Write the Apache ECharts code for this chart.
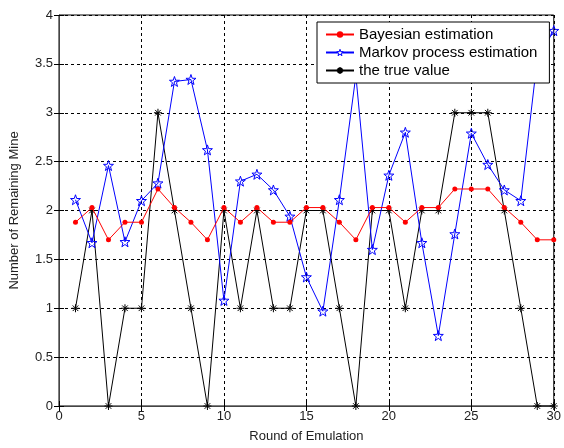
<!DOCTYPE html>
<html>
<head>
    <meta charset="utf-8">
    <title>Remaining Mine</title>
    <script src="https://cdn.jsdelivr.net/npm/echarts@6/dist/echarts.min.js"></script>
</head>
<style>
    html, body { margin: 0; padding: 0; background: #fff; }
    #chart { width: 564px; height: 448px; }
</style>
<body>
<div id="chart"></div>
<script>
    // rounds 1..30
    var rounds = [];
    for (var i = 1; i <= 30; i++) rounds.push(i);

    var bayesian = [1.88, 2.03, 1.70, 1.88, 1.88, 2.22, 2.03, 1.88, 1.70, 2.03,
        1.88, 2.03, 1.88, 1.88, 2.03, 2.03, 1.88, 1.70, 2.03, 2.03,
        1.88, 2.03, 2.03, 2.22, 2.22, 2.22, 2.03, 1.88, 1.70, 1.70];
    var markov = [2.11, 1.67, 2.46, 1.68, 2.10, 2.28, 3.32, 3.34, 2.62, 1.08,
        2.30, 2.37, 2.21, 1.94, 1.32, 0.97, 2.11, 3.38, 1.60, 2.36,
        2.80, 1.67, 0.72, 1.76, 2.79, 2.47, 2.21, 2.10, 3.55, 3.84];
    var trueValue = [1, 2, 0, 1, 1, 3, 2, 1, 0, 2,
        1, 2, 1, 1, 2, 2, 1, 0, 2, 2,
        1, 2, 2, 3, 3, 3, 2, 1, 0, 0];

    function pairs(arr) {
        return arr.map(function (v, i) { return [rounds[i], v]; });
    }

    var starPath = 'path://M0,-10L2.35,-3.24L9.51,-3.09L3.8,1.24L5.88,8.09L0,4L-5.88,8.09L-3.8,1.24L-9.51,-3.09L-2.35,-3.24Z';
    var asteriskPath = 'path://M0,-5L0,5M-5,0L5,0M-3.5,-3.5L3.5,3.5M-3.5,3.5L3.5,-3.5';

    var font = 'Liberation Sans, Arial, sans-serif';
    var gridDash = {show: true, lineStyle: {color: '#000', type: [3, 3], width: 1}};

    var chart = echarts.init(document.getElementById('chart'));
    chart.setOption({
        animation: false,
        grid: {
            left: 59, right: 4, top: 15, bottom: 40,
            show: true, borderColor: '#000', borderWidth: 1
        },
        legend: {
            left: 317, top: 22,
            orient: 'vertical',
            z: 10,
            backgroundColor: '#fff',
            borderColor: '#000',
            borderWidth: 1,
            borderRadius: 0,
            padding: [5, 12, 5, 8],
            itemGap: 3,
            itemWidth: 28,
            itemHeight: 8,
            textStyle: {fontFamily: font, fontSize: 15, color: '#000'},
            data: [
                {name: 'Bayesian estimation'},
                {name: 'Markov process estimation', itemStyle: {color: '#fff', borderColor: '#0000ff', borderWidth: 1}},
                {name: 'the true value'}
            ]
        },
        xAxis: [{
            type: 'value', min: 0, max: 30, interval: 5,
            name: 'Round of Emulation', nameLocation: 'middle', nameGap: 24,
            nameTextStyle: {fontFamily: font, fontSize: 13, color: '#222'},
            axisLine: {lineStyle: {color: '#444', width: 1}},
            axisTick: {inside: true, length: 5, lineStyle: {color: '#000'}},
            axisLabel: {fontFamily: font, fontSize: 13, color: '#222', margin: 4},
            splitLine: gridDash
        }, {
            type: 'value', min: 0, max: 30, interval: 5, position: 'top',
            axisLine: {show: false},
            axisTick: {inside: true, length: 5, lineStyle: {color: '#000'}},
            axisLabel: {show: false},
            splitLine: {show: false}
        }],
        yAxis: [{
            type: 'value', min: 0, max: 4, interval: 0.5,
            name: 'Number of Remaining Mine', nameLocation: 'middle', nameGap: 38,
            nameTextStyle: {fontFamily: font, fontSize: 13, color: '#222'},
            axisLine: {show: true, lineStyle: {color: '#444', width: 1}},
            axisTick: {show: true, inside: true, length: 5, lineStyle: {color: '#000'}},
            axisLabel: {fontFamily: font, fontSize: 13, color: '#222', margin: 6},
            splitLine: gridDash
        }, {
            type: 'value', min: 0, max: 4, interval: 0.5, position: 'right',
            axisLine: {show: false},
            axisTick: {show: true, inside: true, length: 5, lineStyle: {color: '#000'}},
            axisLabel: {show: false},
            splitLine: {show: false}
        }],
        series: [
            {
                name: 'Bayesian estimation',
                type: 'line',
                data: pairs(bayesian),
                symbol: 'circle',
                symbolSize: 5,
                itemStyle: {color: '#ff0000'},
                lineStyle: {color: '#ff0000', width: 1},
                z: 3
            },
            {
                name: 'Markov process estimation',
                type: 'line',
                data: pairs(markov),
                symbol: starPath,
                symbolSize: 10,
                itemStyle: {color: 'rgba(255,255,255,0)', borderColor: '#0000ff', borderWidth: 1},
                lineStyle: {color: '#0000ff', width: 1},
                z: 2
            },
            {
                name: 'the true value',
                type: 'line',
                data: pairs(trueValue),
                symbol: asteriskPath,
                symbolSize: 8,
                itemStyle: {color: '#000', borderColor: '#000', borderWidth: 1},
                lineStyle: {color: '#000', width: 1},
                z: 1
            }
        ]
    });
</script>
</body>
</html>
